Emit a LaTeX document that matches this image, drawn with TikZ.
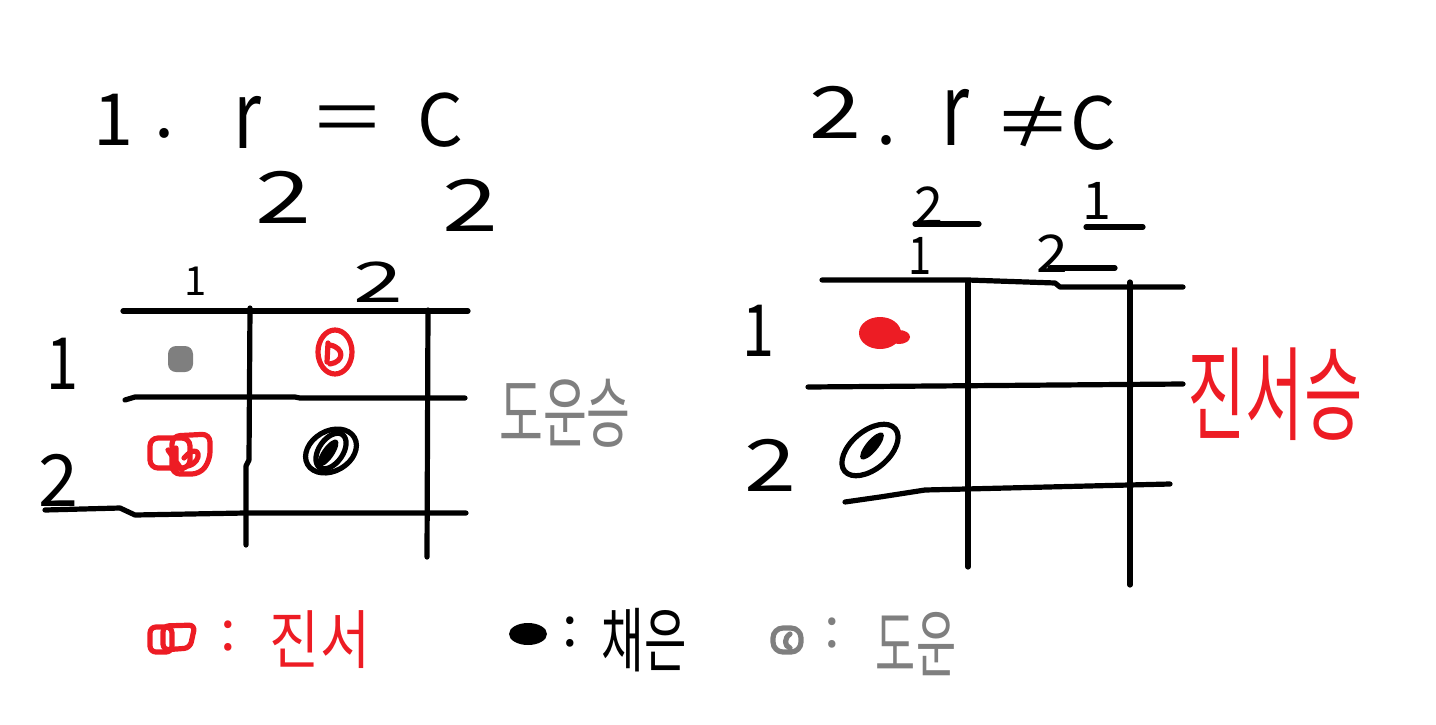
\documentclass[tikz,border=0pt]{standalone}
\usepackage{fontspec}
\setmainfont{Noto Sans CJK KR}
\usetikzlibrary{positioning}
\definecolor{penred}{RGB}{237,28,36}
\definecolor{pengray}{RGB}{127,127,127}
\begin{document}
\begin{tikzpicture}[
    x=0.5pt, y=-0.5pt,
    pen/.style={line width=2.6pt, line cap=round, line join=round},
    big/.style={inner sep=0pt, font=\fontsize{36}{40}\selectfont},
    mid/.style={inner sep=0pt, font=\fontsize{28}{32}\selectfont},
    small/.style={inner sep=0pt, font=\fontsize{20}{24}\selectfont},
    word/.style={inner sep=0pt, font=\fontsize{32}{36}\selectfont},
]
\useasboundingbox (0,0) rectangle (1436,724);

\node[big] (one)    at (113,120) {1};
\node[big] (dotA)   at (165,133) {.};
\node[big,yscale=1.3] (rowA) at (247,122) {r};
\node[big,xscale=1.6] (eqA) at (347,125) {=};
\node[big] (colA)   at (440,120) {C};
\node[big,xscale=1.4] (rnA) at (283,197) {2};
\node[big,xscale=1.4] (cnA) at (470,205) {2};

\node[small] (topA1) at (196,281) {1};
\node[mid,xscale=1.6] (topA2) at (378,282) {2};
\node[big,xscale=0.8] (sideA1) at (62,364) {1};
\node[big] (sideA2) at (58,480) {2};

\draw[pen] (123,311) -- (468,311);
\draw[pen] (125,400) -- (135,397) -- (295,397) -- (300,398) -- (465,398);
\draw[pen] (45,510) -- (120,508) -- (135,515) -- (245,513) -- (466,513);
\draw[pen] (250,308) -- (249,460) -- (246,466) -- (246,545);
\draw[pen] (428,310) -- (427,557);

\fill[pengray, rounded corners=4pt] (168,346) rectangle (193,372);
\draw[pen, penred] (335,352) ellipse (17 and 22);
\draw[pen, penred] (328,343) -- (327,362) (330,345) .. controls (345,348) and (344,362) .. (330,364);
\draw[pen, penred, rounded corners=4pt] (150,438) rectangle (190,468);
\draw[pen, penred, rounded corners=4pt] (172,436) -- (210,434) -- (210,460) -- (200,474) -- (172,474) -- cycle;
\draw[pen, penred] (168,450) -- (182,470) (176,448) -- (176,472) (184,458) .. controls (200,440) and (204,462) .. (188,466);
\draw[pen, rotate around={30:(331,451)}] (331,451) ellipse (27 and 20);
\fill[rotate around={55:(328,453)}] (328,453) ellipse (16 and 6);
\draw[pen, rotate around={55:(331,451)}] (331,451) ellipse (20 and 12);

\node[word, scale=1.2, xscale=0.62, text=pengray] (winA) at (565,413) {도운승};

\node[big,xscale=1.3] (two) at (835,112) {2};
\node[big] (dotB)   at (887,140) {.};
\node[big,yscale=1.4] (rowB) at (955,117) {r};
\node[big,xscale=1.1] (neqB) at (1033,122) {≠};
\node[big] (colB)   at (1093,123) {C};

\node[small,scale=1.3] (topB2) at (929,206) {2};
\node[small,scale=1.3,xscale=0.8] (botB1) at (920,256) {1};
\node[small,scale=1.3] (topB1) at (1097,201) {1};
\node[small,scale=1.3,xscale=1.1] (botB2) at (1052,254) {2};
\draw[pen] (915,224) -- (979,224);
\draw[pen] (1086,227) -- (1143,227);
\draw[pen] (1050,268) -- (1115,268);

\node[big,xscale=0.8] (sideB1) at (758,331) {1};
\node[big,xscale=1.3] (sideB2) at (770,465) {2};

\draw[pen] (822,280) -- (968,280) -- (1055,283) -- (1060,287) -- (1183,287);
\draw[pen] (808,387) -- (1183,384);
\draw[pen] (845,502) -- (880,497) -- (925,490) -- (1170,484);
\draw[pen] (968,282) -- (968,567);
\draw[pen] (1130,282) -- (1130,585);

\fill[penred] (880,333) ellipse (21 and 16);
\fill[penred] (899,337) ellipse (11 and 7);
\draw[pen, rotate around={40:(870,450)}] (870,450) ellipse (33 and 19);
\fill[rotate around={50:(872,446)}] (872,446) ellipse (17 and 6);

\node[word, scale=1.6, xscale=0.62, text=penred] (winB) at (1275,394) {진서승};

\draw[pen, penred, rounded corners=3pt] (150,627) rectangle (172,652);
\draw[pen, penred, rounded corners=3pt] (163,626) -- (195,625) -- (190,648) -- (163,650) -- cycle;
\node[mid, text=penred] (colonR) at (228,636) {:};
\node[word, xscale=0.85, text=penred] (keyR) at (320,640) {진서};

\fill (528,634) ellipse (19 and 11);
\node[mid] (colonK) at (570,632) {:};
\node[word, xscale=0.72, yscale=1.1] (keyK) at (644,640) {채은};

\draw[pen, pengray, rounded corners=5pt] (773,628) rectangle (801,652);
\draw[pen, pengray] (790,634) .. controls (784,638) and (784,646) .. (790,648);
\node[mid, text=pengray] (colonG) at (832,633) {:};
\node[word, xscale=0.68, yscale=1.15, text=pengray] (keyG) at (916,644) {도운};
\end{tikzpicture}
\end{document}
